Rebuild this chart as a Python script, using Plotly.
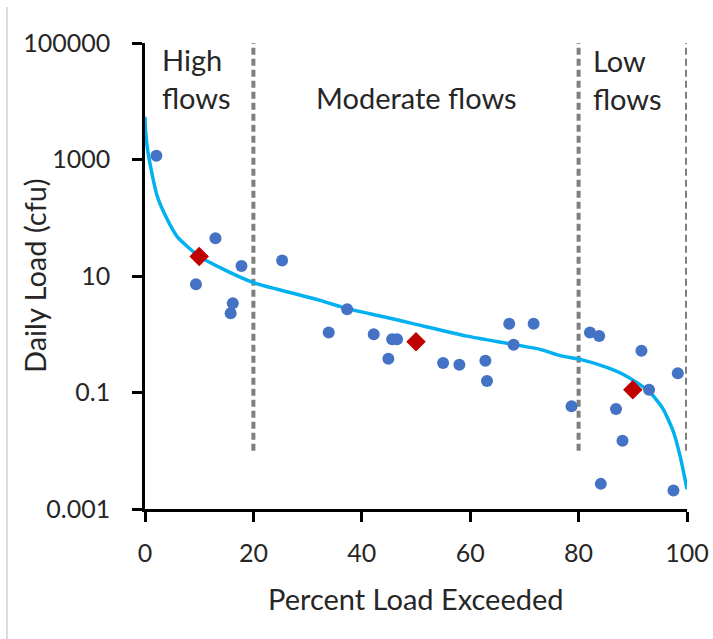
import plotly.graph_objects as go

# Observed data (blue dots)
obs_pct = [2.1, 9.4, 13.0, 15.8, 16.2, 17.8, 25.3, 33.9, 37.3, 42.2, 44.9, 45.6, 46.5,
           55.0, 58.0, 62.8, 63.1, 67.2, 68.0, 71.7, 78.7, 82.1, 83.8, 84.1, 86.9,
           88.1, 91.6, 93.0, 97.5, 98.3]
obs_load = [1160, 7.2, 44.6, 2.29, 3.4, 14.8, 18.5, 1.07, 2.68, 1.0, 0.38, 0.82, 0.82,
            0.32, 0.30, 0.35, 0.158, 1.52, 0.66, 1.52, 0.058, 1.07, 0.935, 0.0027, 0.052,
            0.0149, 0.52, 0.111, 0.00207, 0.215]

# Red diamonds (summary points)
sum_pct = [10, 50, 90]
sum_load = [21.7, 0.74, 0.111]

# Load duration curve
ldc_pct = [0, 0.1, 0.4, 0.9, 2.25, 3.8, 5.9, 10, 14.5, 20, 26.8, 32, 37.3, 44, 50,
           59.4, 68, 72.9, 76.6, 80.3, 85.2, 88, 90.7, 93.2, 95.6, 97.5, 98.7, 100]
ldc_load = [5400, 3240, 1660, 871, 236, 107, 48, 21.7, 13, 7.7, 5.2, 3.9, 2.75, 2.0, 1.48,
            0.93, 0.67, 0.55, 0.43, 0.37, 0.27, 0.21, 0.149, 0.1, 0.052, 0.021, 0.0083, 0.0022]

# Flow-regime boundaries
bound_pct = [20, 80, 100]
bound_range = [0.01, 100000]

x_ticks = [0, 20, 40, 60, 80, 100]
y_ticks = [0.001, 0.1, 10, 1000, 100000]
y_ticktext = ["0.001", "0.1", "10", "1000", "100000"]

FONT = "Lato"
TXT = "#262626"
fig = go.Figure()

for b in bound_pct:
    fig.add_trace(go.Scatter(x=[b, b], y=bound_range, mode="lines",
                             line=dict(color="#7f7f7f", width=4, dash="7px,4px"),
                             hoverinfo="skip", showlegend=False))

fig.add_trace(go.Scatter(x=ldc_pct, y=ldc_load, mode="lines",
                         line=dict(color="#00b0f0", width=3.5, shape="spline", smoothing=0.6),
                         showlegend=False))

fig.add_trace(go.Scatter(x=obs_pct, y=obs_load, mode="markers",
                         marker=dict(color="#4472c4", size=12, line=dict(width=0)),
                         showlegend=False))

fig.add_trace(go.Scatter(x=sum_pct, y=sum_load, mode="markers",
                         marker=dict(color="#c00000", symbol="diamond", size=15, line=dict(width=0)),
                         showlegend=False))

fig.update_layout(
    width=713, height=639,
    margin=dict(l=145, r=26, t=43, b=130),
    paper_bgcolor="white", plot_bgcolor="white",
    font=dict(family=FONT, size=25, color=TXT),
    showlegend=False,
)

fig.update_xaxes(range=[0, 100], tickvals=x_ticks, showgrid=False, zeroline=False,
                 automargin=False,
                 showline=True, linecolor="black", linewidth=2.5,
                 ticks="outside", ticklen=10, tickwidth=2.5, tickcolor="black",
                 tickfont=dict(family=FONT, size=25, color=TXT),
                 ticklabelstandoff=10)
fig.update_yaxes(type="log", range=[-3, 5], tickvals=y_ticks, ticktext=y_ticktext,
                 showgrid=False, zeroline=False, automargin=False,
                 showline=True, linecolor="black", linewidth=2.5,
                 ticks="outside", ticklen=10, tickwidth=2.5, tickcolor="black",
                 tickfont=dict(family=FONT, size=25, color=TXT),
                 ticklabelstandoff=17)

title_font = dict(family=FONT, size=29, color=TXT)
# axis titles
fig.add_annotation(x=0.5, y=-0.191, xref="paper", yref="paper", text="Percent Load Exceeded",
                   showarrow=False, xanchor="center", yanchor="middle", font=title_font)
fig.add_annotation(x=-0.2048, y=0.5, xref="paper", yref="paper", text="Daily Load (cfu)",
                   showarrow=False, xanchor="center", yanchor="middle", textangle=-90, font=title_font)

ann_font = dict(family=FONT, size=29, color=TXT)
fig.add_annotation(x=2.8, y=5, xref="x", yref="y", text="High<br>flows", showarrow=False,
                   xanchor="left", yanchor="top", align="left", font=ann_font, yshift=3)
fig.add_annotation(x=50, y=5, xref="x", yref="y", text="Moderate flows", showarrow=False,
                   xanchor="center", yanchor="top", align="center", font=ann_font, yshift=-35)
fig.add_annotation(x=82.2, y=5, xref="x", yref="y", text="Low<br>flows", showarrow=False,
                   xanchor="left", yanchor="top", align="left", font=ann_font, yshift=2)

# thin gray border at the left edge of the image
fig.add_shape(type="line", xref="paper", yref="paper", x0=-0.2546, x1=-0.2546, y0=1.077, y1=-0.279,
              line=dict(color="#d0d0d0", width=1.5))

# remove the default page margin so the figure fills the window exactly
fig.write_html("out.html",
               config={"displayModeBar": False},
               post_script="document.body.style.margin='0';document.body.style.overflow='hidden';")
